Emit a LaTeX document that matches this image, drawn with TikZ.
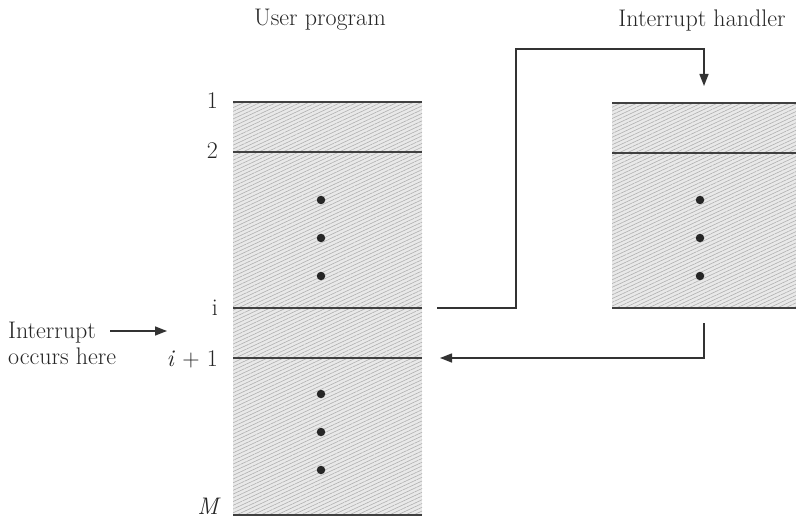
\documentclass[tikz,border=0pt]{standalone}
\usepackage{fontspec}
\usetikzlibrary{patterns.meta,arrows.meta}
\begin{document}
\begin{tikzpicture}[x=1pt,y=-1pt,
  hatchbg/.style={fill=gray!17},
  hatch/.style={pattern={Lines[angle=25,distance=3.4pt,line width=0.6pt]}, pattern color=gray!62},
  bar/.style={line width=2pt, draw=black!75},
  conn/.style={line width=1.4pt, draw=black!80},
  tip/.style={-{Triangle[length=12pt,width=9pt]}},
  lbl/.style={font=\fontsize{24}{28}\selectfont, text=black!85, inner sep=0pt},
  dotm/.style={circle, fill=black!85, inner sep=0pt, minimum size=8.5pt},
]
\useasboundingbox (0,0) rectangle (796,524);

% hatched columns
\fill[hatchbg] (233,102) rectangle (422,515);
\fill[hatch] (233,102) rectangle (422,515);
\fill[hatchbg] (612,103) rectangle (796,308);
\fill[hatch] (612,103) rectangle (796,308);

% left column lines
\coordinate (L1w) at (233,102); \coordinate (L1e) at (422,102);
\coordinate (L2w) at (233,152); \coordinate (L2e) at (422,152);
\coordinate (Liw) at (233,308); \coordinate (Lie) at (422,308);
\coordinate (Ljw) at (233,358); \coordinate (Lje) at (422,358);
\coordinate (LMw) at (233,515); \coordinate (LMe) at (422,515);
\draw[bar] (L1w) -- (L1e);
\draw[bar] (L2w) -- (L2e);
\draw[bar] (Liw) -- (Lie);
\draw[bar] (Ljw) -- (Lje);
\draw[bar] (LMw) -- (LMe);

% right column lines
\coordinate (R1w) at (612,103); \coordinate (R1e) at (796,103);
\coordinate (R2w) at (612,153); \coordinate (R2e) at (796,153);
\coordinate (R3w) at (612,308); \coordinate (R3e) at (796,308);
\draw[bar] (R1w) -- (R1e);
\draw[bar] (R2w) -- (R2e);
\draw[bar] (R3w) -- (R3e);

% dots
\node[dotm] (d1) at (321,200) {};
\node[dotm] (d2) at (321,238) {};
\node[dotm] (d3) at (321,276) {};
\node[dotm] (d4) at (321,394) {};
\node[dotm] (d5) at (321,432) {};
\node[dotm] (d6) at (321,470) {};
\node[dotm] (d7) at (700,200) {};
\node[dotm] (d8) at (700,238) {};
\node[dotm] (d9) at (700,276) {};

% titles
\node[lbl, anchor=base] (tup) at (320,26) {User program};
\node[lbl, anchor=base] (tih) at (702,27) {Interrupt handler};

% line labels
\node[lbl, anchor=base east] (n1) at (218,109) {1};
\node[lbl, anchor=base east] (n2) at (218,159) {2};
\node[lbl, anchor=base east] (ni) at (218,315) {i};
\node[lbl, anchor=base east] (nj) at (218,366) {\textit{i} + 1};
\node[lbl, anchor=base east] (nM) at (221,514) {\textit{M}};

% interrupt note
\node[lbl, anchor=base west] (int) at (8,338) {Interrupt};
\node[lbl, anchor=base west] (occ) at (8,364) {occurs here};
\coordinate (ia) at (110,331);
\coordinate (ib) at (167,331);
\draw[conn, tip] (ia) -- (ib);

% jump to handler
\coordinate (j0) at (437,308);
\coordinate (j1) at (516,308);
\coordinate (j2) at (516,49);
\coordinate (j3) at (704,49);
\coordinate (j4) at (704,86);
\draw[conn, tip] (j0) -- (j1) -- (j2) -- (j3) -- (j4);

% return
\coordinate (r0) at (704,323);
\coordinate (r1) at (704,358);
\coordinate (r2) at (440,358);
\draw[conn, tip] (r0) -- (r1) -- (r2);
\end{tikzpicture}
\end{document}
